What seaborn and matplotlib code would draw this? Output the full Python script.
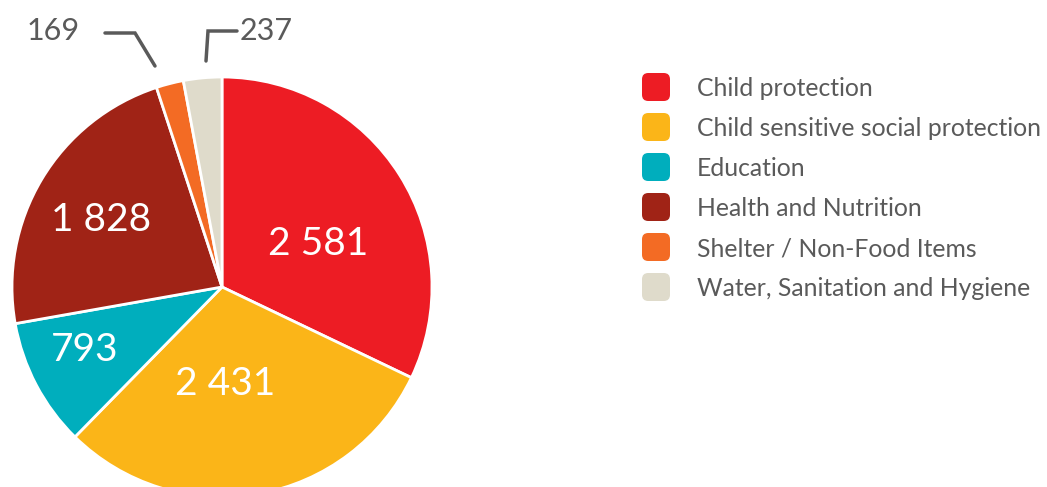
import matplotlib
matplotlib.use("Agg")
import matplotlib.pyplot as plt
from matplotlib.patches import FancyBboxPatch
import numpy as np
import seaborn as sns

# Data
categories = [
    "Child protection",
    "Child sensitive social protection",
    "Education",
    "Health and Nutrition",
    "Shelter / Non-Food Items",
    "Water, Sanitation and Hygiene",
]
values = [2581, 2431, 793, 1828, 169, 237]
value_labels = ["2 581", "2 431", "793", "1 828", "169", "237"]
colors = ["#ED1C24", "#FBB518", "#00AEBD", "#A02316", "#F36B24", "#DFDBCB"]

sns.set_theme(style="white")
plt.rcParams["font.family"] = ["Lato", "DejaVu Sans"]
palette = sns.color_palette(colors)

W, H = 1047, 487
fig = plt.figure(figsize=(W / 100, H / 100), dpi=100)

# Pie axes: center (222, 287) px, radius 210 px
cx, cy, r = 222, 287, 210
ax = fig.add_axes([(cx - r) / W, (H - cy - r) / H, 2 * r / W, 2 * r / H])
wedges, _ = ax.pie(
    values,
    colors=palette,
    startangle=90,
    counterclock=False,
    radius=1.0,
    wedgeprops=dict(edgecolor="white", linewidth=2, joinstyle="round"),
)
ax.set_xlim(-1, 1)
ax.set_ylim(-1, 1)
ax.set_aspect("equal")
ax.axis("off")

# In-slice labels (radial distance, angle tweak in degrees)
inside = {0: (0.50, -8), 1: (0.46, -8), 2: (0.72, -3), 3: (0.66, 2)}
for i, (dist, tweak) in inside.items():
    w = wedges[i]
    ang = np.deg2rad((w.theta1 + w.theta2) / 2 + tweak)
    ax.text(dist * np.cos(ang), dist * np.sin(ang), value_labels[i],
            color="white", fontsize=28, ha="center", va="center")

# Callouts for the small slices
gray = "#5A5A5A"
def px(x, y):
    return ((x - cx) / r, (cy - y) / r)

leader_169 = [px(105, 33), px(135, 33), px(155, 66)]
leader_237 = [px(237, 31), px(208, 31), px(206, 61)]
for pts in (leader_169, leader_237):
    xs, ys = zip(*pts)
    ax.plot(xs, ys, color=gray, lw=2.5, clip_on=False, solid_joinstyle="miter")
ax.text(*px(53, 31), value_labels[4], color=gray, fontsize=22, ha="center", va="center")
ax.text(*px(266, 31), value_labels[5], color=gray, fontsize=22, ha="center", va="center")

# Legend with rounded square keys
row0, step = 87, 40
for i, (cat, col) in enumerate(zip(categories, palette)):
    yc = row0 + i * step
    sq = 28
    box = FancyBboxPatch(((642) / W, (H - yc - sq / 2) / H), sq / W, sq / H,
                         boxstyle="round,pad=0,rounding_size=0.006",
                         transform=fig.transFigure, facecolor=col,
                         edgecolor="none", mutation_aspect=W / H)
    fig.patches.append(box)
    fig.text(697 / W, (H - yc - 2) / H, cat, color=gray, fontsize=17.8,
             ha="left", va="center")

fig.savefig("out.png", dpi=100)
